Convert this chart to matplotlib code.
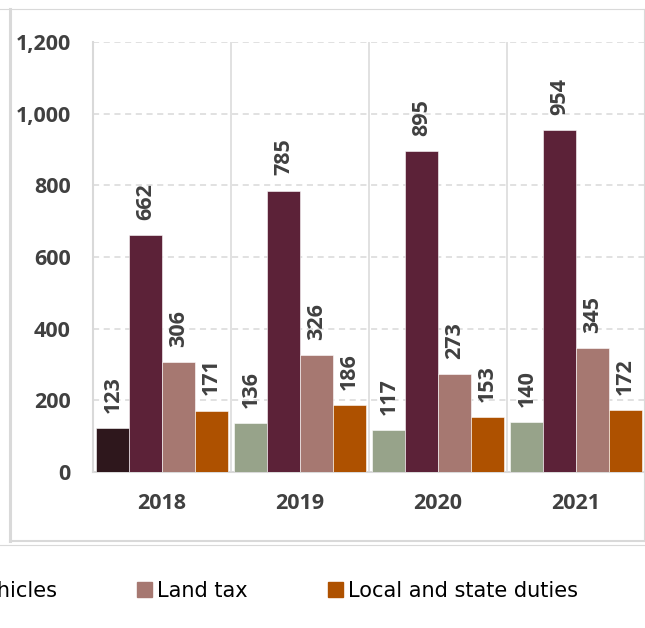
import numpy as np
import matplotlib
matplotlib.use("Agg")
import matplotlib.pyplot as plt
from matplotlib.lines import Line2D
from matplotlib.ticker import FuncFormatter

# data
years = ["2018", "2019", "2020", "2021"]
series_names = ["Property tax", "Tax on vehicles", "Land tax", "Local and state duties"]
property_tax = [123, 136, 117, 140]
vehicle_tax = [662, 785, 895, 954]
land_tax = [306, 326, 273, 345]
local_duties = [171, 186, 153, 172]
y_ticks = [0, 200, 400, 600, 800, 1000, 1200]

# styles
colors = ["#97a38a", "#5c2238", "#a67871", "#ae5100"]
first_bar_colors = ["#2e171c", "#97a38a", "#97a38a", "#97a38a"]
txt_color = "#404040"
grid_color = "#d9d9d9"
lab_font = ["Open Sans", "DejaVu Sans"]
leg_font = ["DejaVu Sans"]
leg_size = 15

fig = plt.figure(figsize=(6.45, 6.28), dpi=100)
ax = fig.add_axes([93 / 645, 1 - 472 / 628, 1 - 93 / 645, (472 - 42) / 628])

x = np.arange(len(years))
n = len(series_names)
width = 0.95 / n
all_series = [property_tax, vehicle_tax, land_tax, local_duties]

handles = []
for i, vals in enumerate(all_series):
    cols = first_bar_colors if i == 0 else [colors[i]] * len(years)
    bars = ax.bar(x + (i - (n - 1) / 2) * width, vals, width, color=cols,
                  edgecolor="white", linewidth=0.4, zorder=3, label=series_names[i])
    for b, v in zip(bars, vals):
        ax.annotate(f"{v}", (b.get_x() + b.get_width() / 2, v),
                    xytext=(0, 11), textcoords="offset points",
                    rotation=90, ha="center", va="bottom",
                    fontsize=15.5, fontweight="bold", color=txt_color, family=lab_font)
    handles.append(plt.Rectangle((0, 0), 1, 1, color=colors[i]))

ax.set_xlim(-0.5, len(years) - 0.5)
ax.set_ylim(0, 1200)
ax.set_yticks(y_ticks)
ax.yaxis.set_major_formatter(FuncFormatter(lambda v, p: f"{int(v):,}"))
ax.set_xticks(x)
ax.set_xticklabels(years)
ax.tick_params(axis="both", length=0, colors=txt_color, labelsize=15.5)
ax.tick_params(axis="y", pad=16)
ax.tick_params(axis="x", pad=15)
for lab in ax.get_xticklabels() + ax.get_yticklabels():
    lab.set_fontweight("bold")
    lab.set_family(lab_font)

ax.yaxis.grid(True, color=grid_color, linestyle=(0, (4, 3)), linewidth=1.1, zorder=0)
for sep in x[:-1] + 0.5:
    ax.axvline(sep, color=grid_color, linewidth=1.1, zorder=1)
for s in ["top", "right"]:
    ax.spines[s].set_visible(False)
for s in ["left", "bottom"]:
    ax.spines[s].set_color(grid_color)
    ax.spines[s].set_linewidth(1.5)

leg_px = leg_size * 100 / 72
ax.legend(handles, series_names, loc="center right",
          bbox_to_anchor=(578 / 645, 1 - 591 / 628), bbox_transform=fig.transFigure,
          ncol=4, frameon=False, borderpad=0, borderaxespad=0,
          prop={"family": leg_font, "size": leg_size},
          handlelength=15 / leg_px, handleheight=15 / leg_px,
          handletextpad=5 / leg_px, columnspacing=80 / leg_px)

# outer frame lines
def fline(x0, y0, x1, y1, lw):
    fig.add_artist(Line2D([x0 / 645, x1 / 645], [1 - y0 / 628, 1 - y1 / 628],
                          color=grid_color, linewidth=lw, transform=fig.transFigure))

fline(0, 9, 645, 9, 0.8)
fline(10, 9, 10, 541, 2.2)
fline(10, 541, 645, 541, 1.5)
fline(0, 545, 645, 545, 0.8)
fline(644, 9, 644, 541, 0.8)

fig.savefig("out.png", dpi=100)
